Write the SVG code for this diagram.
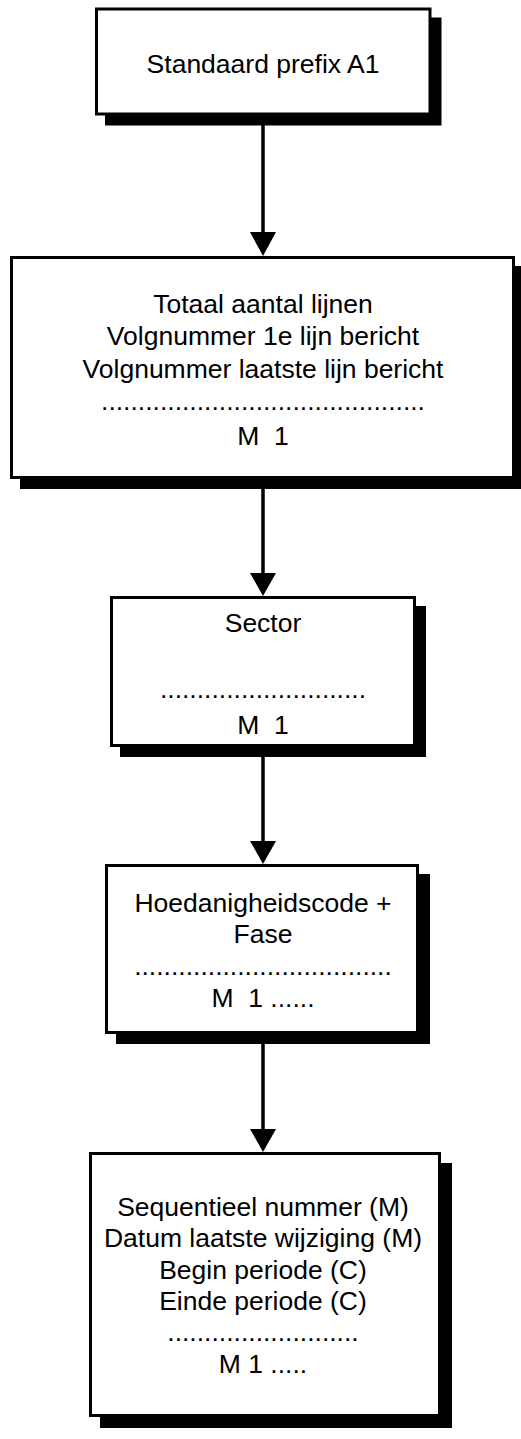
<svg xmlns="http://www.w3.org/2000/svg" width="521" height="1439" viewBox="0 0 521 1439">
<defs>
<style>
.box{fill:#fff;stroke:#000;stroke-width:3}
.sh{fill:#000}
.t{font-family:"Liberation Sans",Arial,sans-serif;font-size:26.5px;fill:#000;text-anchor:middle;white-space:pre}
.ln{stroke:#000;stroke-width:3.5;fill:none}
.hd{fill:#000}
</style>
</defs>
<rect width="521" height="1439" fill="#fff"/>
<g id="connectors">
<line class="ln" x1="263" y1="125" x2="263" y2="234"/>
<polygon class="hd" points="250,232 276,232 263,256"/>
<line class="ln" x1="263" y1="489" x2="263" y2="575"/>
<polygon class="hd" points="250,573 276,573 263,596"/>
<line class="ln" x1="263" y1="757" x2="263" y2="843"/>
<polygon class="hd" points="250,841 276,841 263,864"/>
<line class="ln" x1="263" y1="1044" x2="263" y2="1131"/>
<polygon class="hd" points="250,1129 276,1129 263,1152"/>
</g>
<g id="node1">
<rect class="sh" x="105" y="17.5" width="336.5" height="108"/>
<rect class="box" x="96.5" y="9" width="333.5" height="105"/>
<text class="t" x="263" y="73">Standaard prefix A1</text>
</g>
<g id="node2">
<rect class="sh" x="20" y="266" width="505" height="223"/>
<rect class="box" x="11.5" y="257.5" width="502" height="220"/>
<text class="t" x="263" y="313">Totaal aantal lijnen</text>
<text class="t" x="263" y="345">Volgnummer 1e lijn bericht</text>
<text class="t" x="263" y="378">Volgnummer laatste lijn bericht</text>
<text class="t" x="263" y="410">............................................</text>
<text class="t" x="263" y="445">M  1</text>
</g>
<g id="node3">
<rect class="sh" x="120" y="606" width="306" height="151"/>
<rect class="box" x="111.5" y="597.5" width="303" height="148"/>
<text class="t" x="263" y="632">Sector</text>
<text class="t" x="263" y="698">............................</text>
<text class="t" x="263" y="734">M  1</text>
</g>
<g id="node4">
<rect class="sh" x="116" y="874" width="314" height="170"/>
<rect class="box" x="106.5" y="865.5" width="311" height="167"/>
<text class="t" x="263" y="912">Hoedanigheidscode +</text>
<text class="t" x="263" y="943">Fase</text>
<text class="t" x="263" y="975">...................................</text>
<text class="t" x="263" y="1007">M  1 ......</text>
</g>
<g id="node5">
<rect class="sh" x="100" y="1163" width="352" height="265"/>
<rect class="box" x="90.5" y="1153.5" width="349" height="262"/>
<text class="t" x="263" y="1216">Sequentieel nummer (M)</text>
<text class="t" x="263" y="1247">Datum laatste wijziging (M)</text>
<text class="t" x="263" y="1279">Begin periode (C)</text>
<text class="t" x="263" y="1310">Einde periode (C)</text>
<text class="t" x="263" y="1341">..........................</text>
<text class="t" x="263" y="1373">M 1 .....</text>
</g>
</svg>
